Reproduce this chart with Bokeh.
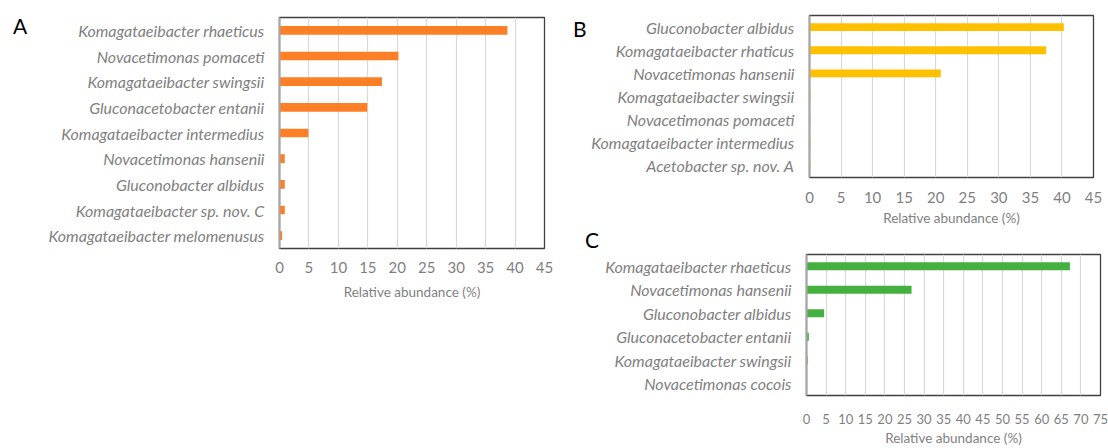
from bokeh.plotting import figure
from bokeh.layouts import row, column
from bokeh.models import FactorRange, Range1d, FixedTicker, Div
from bokeh.embed import file_html
from bokeh.resources import INLINE

# ---- data ----
A_species = ["Komagataeibacter rhaeticus", "Novacetimonas pomaceti", "Komagataeibacter swingsii",
             "Gluconacetobacter entanii", "Komagataeibacter intermedius", "Novacetimonas hansenii",
             "Gluconobacter albidus", "Komagataeibacter sp. nov. C", "Komagataeibacter melomenusus"]
A_values = [38.7, 20.2, 17.4, 14.9, 4.9, 0.9, 0.9, 0.9, 0.45]

B_species = ["Gluconobacter albidus", "Komagataeibacter rhaticus", "Novacetimonas hansenii",
             "Komagataeibacter swingsii", "Novacetimonas pomaceti", "Komagataeibacter intermedius",
             "Acetobacter sp. nov. A"]
B_values = [40.3, 37.5, 20.8, 0.15, 0.15, 0.15, 0.15]

C_species = ["Komagataeibacter rhaeticus", "Novacetimonas hansenii", "Gluconobacter albidus",
             "Gluconacetobacter entanii", "Komagataeibacter swingsii", "Novacetimonas cocois"]
C_values = [67.2, 26.8, 4.5, 0.6, 0.3, 0.05]

A_ticks = list(range(0, 50, 5))
B_ticks = list(range(0, 50, 5))
C_ticks = list(range(0, 80, 5))

x_title = "Relative abundance (%)"
FONT = "Lato"
GREY = "#7f7f7f"


def panel(species, values, color, ticks, width, height, bl, br, bt, bb,
          tick_standoff, title_standoff, tick_size="15px"):
    p = figure(width=width, height=height, y_range=FactorRange(*list(reversed(species))),
               x_range=Range1d(ticks[0], ticks[-1]), output_backend="svg",
               toolbar_location=None, min_border_left=bl, min_border_right=br,
               min_border_top=bt, min_border_bottom=bb)
    p.hbar(y=species, right=values, left=0, height=0.34, color=color, line_color=None)
    p.background_fill_color = "white"
    p.border_fill_color = "white"
    p.outline_line_color = "#404040"
    p.outline_line_width = 1.3
    p.ygrid.grid_line_color = None
    p.xgrid.grid_line_color = "#d9d9d9"
    p.xgrid.grid_line_width = 1.2
    p.xaxis.ticker = FixedTicker(ticks=ticks)
    p.xaxis.axis_line_color = None
    p.xaxis.major_tick_line_color = None
    p.xaxis.minor_tick_line_color = None
    p.xaxis.major_tick_out = 0
    p.xaxis.major_label_standoff = tick_standoff
    p.xaxis.major_label_text_font = FONT
    p.xaxis.major_label_text_font_size = tick_size
    p.xaxis.major_label_text_color = GREY
    p.xaxis.axis_label = x_title
    p.xaxis.axis_label_text_font = FONT
    p.xaxis.axis_label_text_font_style = "normal"
    p.xaxis.axis_label_text_font_size = "13.5px"
    p.xaxis.axis_label_text_color = GREY
    p.xaxis.axis_label_standoff = title_standoff
    p.yaxis.axis_line_color = "#a6a6a6"
    p.yaxis.axis_line_width = 2
    p.yaxis.major_tick_line_color = None
    p.yaxis.minor_tick_line_color = None
    p.yaxis.major_tick_out = 0
    p.yaxis.major_label_standoff = 15
    p.yaxis.major_label_text_font = FONT
    p.yaxis.major_label_text_font_style = "italic"
    p.yaxis.major_label_text_font_size = "16px"
    p.yaxis.major_label_text_color = GREY
    return p


def letter(txt, width, height, left, top):
    html = ('<div style="position:relative; left:%dpx; top:%dpx; font-family:Lato; '
            'font-size:21px; line-height:20px; color:#000000;">%s</div>' % (left, top, txt))
    return Div(text=html, width=width, height=height, margin=0)


dA = letter("A", 40, 60, 13, 16)
pA = panel(A_species, A_values, "#ff7f27", A_ticks, 530, 310, 239, 26, 17, 62, 13, 8)

dB = letter("B", 18, 60, 3, 19)
pB = panel(B_species, B_values, "#ffc000", B_ticks, 520, 230, 218, 15, 15, 53, 14, 4)

dC = letter("C", 32, 40, 15, 0)
pC = panel(C_species, C_values, "#43b03f", C_ticks, 506, 218, 203, 8, 24, 48, 18, 3, "13px")

layout = row(row(dA, pA), column(row(dB, pB), row(dC, pC)))
open("out.html", "w").write(file_html(layout, INLINE))
